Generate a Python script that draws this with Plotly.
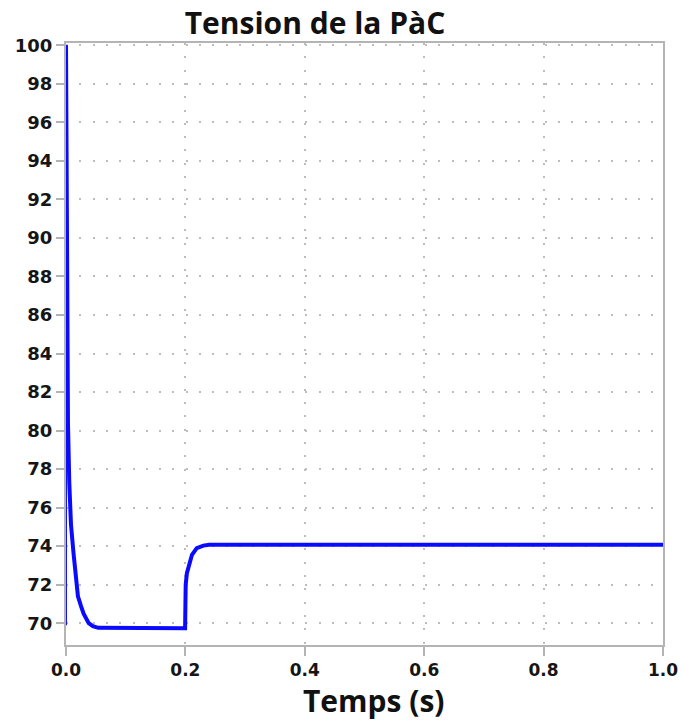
import plotly.graph_objects as go

# Start-up segment at t = 0 (jump from initial value to 100 V)
start_t = [0.0, 0.0]
start_v = [69.9, 100.0]

# Fuel-cell voltage response
time_s = [0.0, 0.001, 0.002, 0.0033, 0.0055, 0.0084, 0.0127, 0.0156, 0.020, 0.025,
          0.0295, 0.038, 0.045, 0.054, 0.1, 0.15, 0.1995,
          0.2, 0.2005, 0.2025, 0.2063, 0.211, 0.219, 0.23, 0.24,
          0.3, 0.4, 0.5, 0.6, 0.7, 0.8, 0.9, 1.0]
voltage = [100.0, 93.0, 86.5, 80.4, 77.3, 75.1, 73.6, 72.6, 71.4, 70.9,
           70.5, 70.0, 69.85, 69.76, 69.74, 69.74, 69.74,
           70.9, 72.0, 72.6, 73.12, 73.55, 73.9, 74.03, 74.07,
           74.08, 74.07, 74.08, 74.07, 74.08, 74.07, 74.08, 74.07]

x_ticks = [0.0, 0.2, 0.4, 0.6, 0.8, 1.0]
y_ticks = list(range(70, 101, 2))

fig = go.Figure()
fig.add_trace(go.Scatter(x=start_t, y=start_v, mode="lines",
                         line=dict(color="#1414f0", width=2), showlegend=False))
fig.add_trace(go.Scatter(x=time_s, y=voltage, mode="lines",
                         line=dict(color="#0a0aff", width=4), showlegend=False))

tick_font = dict(family="DejaVu Sans", size=18, color="#151515", weight="bold")
xtick_font = dict(family="DejaVu Sans", size=17, color="#151515", weight="bold")
title_font = dict(family="Open Sans", size=30, color="#111", weight="bold")

fig.update_layout(
    width=681, height=724,
    margin=dict(l=66, r=18, t=43, b=79),
    paper_bgcolor="white", plot_bgcolor="white",
    title=dict(text="Tension de la PàC", x=0.4626, xanchor="center",
               y=0.9682, yanchor="middle", font=title_font),
    xaxis=dict(range=[0, 1], tickvals=x_ticks, ticktext=[f"{v:.1f}" for v in x_ticks],
               automargin=False,
               showline=True, linecolor="#b4b4b4", linewidth=2, mirror=True,
               ticks="outside", ticklen=9, tickcolor="#b4b4b4", tickwidth=1.5,
               showgrid=True, gridcolor="#bdbdbd", gridwidth=1.5, griddash="2px,11.3px",
               zeroline=False, tickfont=xtick_font),
    yaxis=dict(range=[68.87, 100.12], tickvals=y_ticks,
               automargin=False,
               showline=True, linecolor="#b4b4b4", linewidth=2, mirror=True,
               ticks="outside", ticklen=8, tickcolor="#b4b4b4", tickwidth=1.5,
               showgrid=True, gridcolor="#bdbdbd", gridwidth=1.5, griddash="2px,11.3px",
               zeroline=False, tickfont=tick_font),
    annotations=[dict(text="Temps (s)", xref="paper", yref="paper",
                      x=0.516, y=-0.093, xanchor="center", yanchor="middle",
                      showarrow=False, font=title_font)],
)

fig.write_html("out.html", config={"displayModeBar": False},
               post_script="document.body.style.margin='0';")
